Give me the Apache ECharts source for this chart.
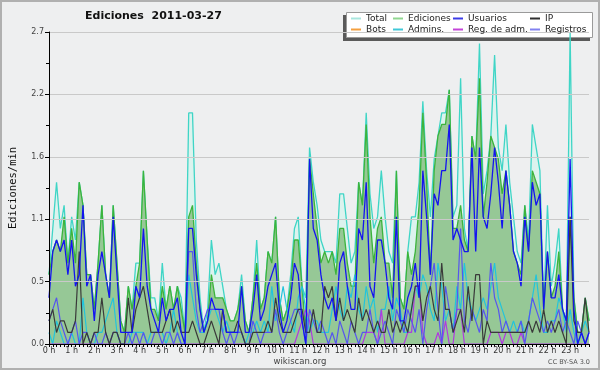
<!DOCTYPE html>
<html><head><meta charset="utf-8">
<script src="https://cdn.jsdelivr.net/npm/echarts@6/dist/echarts.min.js"></script>
<style>html,body{margin:0;padding:0;background:#eeeff0}#c{width:600px;height:370px}</style>
</head><body><div id="c"></div>
<script>
// Hour tick labels (one every 6 ten-minute samples)
const hourLabels = ['0 h','1 h','2 h','3 h','4 h','5 h','6 h','7 h','8 h','9 h','10 h','11 h','12 h','13 h','14 h','15 h','16 h','17 h','18 h','19 h','20 h','21 h','22 h','23 h'];
const yTicksLabelDigits = 1;

// Edits per minute, 10-minute samples 0:00 .. 23:50
const total = [0.6,1.0,1.4,1.0,1.2,0.7,1.1,0.9,1.4,1.2, 0.6,0.6,0.3,0.7,1.2,0.6,0.4,1.2,0.7,0.2, 0.1,0.5,0.3,0.7,0.7,1.5,0.9,0.4,0.4,0.2, 0.7,0.3,0.5,0.3,0.5,0.4,0.1,2.0,2.0,0.9, 0.4,0.1,0.3,0.9,0.6,0.7,0.5,0.3,0.2,0.2, 0.3,0.6,0.2,0.1,0.4,0.9,0.3,0.4,0.8,0.7, 1.1,0.4,0.2,0.3,0.6,1.0,1.1,0.5,0.4,1.7, 1.4,1.2,0.9,0.8,0.8,0.8,0.7,1.3,1.3,1.0, 0.7,0.8,1.4,1.2,2.0,1.3,1.0,1.1,1.5,1.1, 0.8,0.7,1.5,0.4,0.3,0.8,1.1,1.1,1.4,2.1, 1.5,1.1,1.6,1.8,2.0,2.0,2.2,1.1,1.2,2.3, 1.0,0.8,1.8,1.6,2.6,1.3,1.5,1.8,2.5,1.7, 1.5,1.9,1.4,1.1,0.8,0.7,1.2,0.9,1.9,1.7, 1.5,0.3,1.2,0.5,0.7,1.0,0.3,0.2,2.7,0.4, 0.1,0.1,0.4,0.2];
const ediciones = [0.6,0.8, 0.9,0.8,1.1,0.7,1.0,0.7,1.4,1.2,0.6,0.6, 0.3,0.7,1.2,0.6,0.4,1.2,0.7,0.2,0.1,0.5, 0.3,0.5,0.7,1.5,0.9,0.3,0.3,0.2,0.5,0.3, 0.5,0.3,0.5,0.3,0.1,1.1,1.2,0.7,0.3,0.1, 0.2,0.6,0.4,0.4,0.4,0.3,0.2,0.2,0.3,0.5, 0.2,0.1,0.4,0.7,0.3,0.4,0.8,0.7,1.1,0.4, 0.2,0.3,0.5,0.9,0.9,0.5,0.1,1.6, 1.3, 1.0,0.7,0.8,0.7,0.8,0.6,1.0,1.0,0.7,0.5, 0.5,1.4,1.2,1.9,1.1,0.7,1.0,1.1,0.7,0.7, 0.4,1.5,0.4,0.3,0.8,0.6,0.8,1.2,2.0,1.4, 0.6,1.5,1.8,1.9,1.9,2.2,1.0,1.0,1.2,0.9, 0.8,1.8,1.6,2.3,1.1,1.4,1.8,1.7,1.6,1.3, 1.5,1.2,0.8,0.7,0.6,1.2,0.8,1.5,1.4,1.3, 0.3,0.8,0.4,0.5,0.8,0.3,0.2,1.1,0.4,0.1, 0.1,0.4,0.2];
const usuarios = [0.4,0.8, 0.9,0.8,0.9,0.6,0.9,0.5,0.6,1.2,0.5,0.6, 0.2,0.6,0.8,0.6,0.4,1.1,0.6,0.1,0.1,0.1, 0.1,0.5,0.4,1.0,0.5,0.3,0.2,0.1,0.4,0.2, 0.3,0.3,0.4,0.1,0.0,1.0,1.0,0.6,0.3,0.1, 0.2,0.4,0.3,0.3,0.3,0.1,0.1,0.1,0.1,0.5, 0.1,0.1,0.3,0.6,0.2,0.3,0.5,0.6,0.7,0.3, 0.1,0.2,0.4,0.7,0.6,0.2,0.0,1.6, 1.0, 0.9,0.6,0.4,0.3,0.4,0.2,0.7,0.8,0.5,0.3, 0.3,1.0,0.9,1.4,0.5,0.4,0.9,0.9,0.7,0.4, 0.3,1.1,0.2,0.2,0.4,0.5,0.7,0.4,1.5,1.1, 0.6,1.3,1.2,1.5,1.5,1.9,0.9,1.0,0.9,0.8, 0.8,1.7,0.8,1.7,1.1,1.0,1.3,1.7,1.4,1.0, 1.5,1.2,0.8,0.7,0.5,1.1,0.8,1.4,1.2,1.3, 0.3,0.8,0.4,0.4,0.6,0.3,0.2,1.6,0.3,0.0, 0.1,0.0,0.1];
const ip = [0.2,0.3, 0.1,0.2,0.2,0.1,0.1,0.2,0.8,0.0,0.1,0.0, 0.1,0.1,0.4,0.1,0.0,0.1,0.1,0.0,0.0,0.4, 0.1,0.3,0.4,0.5,0.3,0.1,0.1,0.1,0.1,0.2, 0.3,0.1,0.2,0.1,0.1,0.1,0.2,0.1,0.0,0.0, 0.1,0.2,0.1,0.0,0.3,0.1,0.1,0.1,0.2,0.1, 0.0,0.0,0.1,0.1,0.1,0.1,0.2,0.1,0.4,0.2, 0.1,0.1,0.1,0.2,0.3,0.3,0.1,0.1, 0.3, 0.1,0.1,0.5,0.4,0.5,0.2,0.4,0.2,0.3,0.2, 0.1,0.4,0.2,0.3,0.2,0.1,0.2,0.1,0.1,0.3, 0.1,0.2,0.1,0.2,0.1,0.3,0.5,0.5,0.2,0.4, 0.5,0.3,0.2,0.7,0.3,0.3,0.1,0.2,0.3,0.1, 0.5,0.2,0.6,0.6,0.0,0.2,0.1,0.1,0.1,0.1, 0.1,0.1,0.1,0.1,0.1,0.1,0.2,0.1,0.2,0.1, 0.3,0.1,0.2,0.1,0.2,0.1,0.0,1.1,0.2,0.1, 0.1,0.4,0.1];
const bots = [];
const admins = [0.1,0,0.2,0.1,0,0,0.1,0,0,0.4,0.1, 0,0,0.1,0.1,0.2,0.3,0.4,0.1,0,0,0,0.1, 0.1,0.1,0.1,0,0.1,0.1,0.1,0.1,0,0.1,0.3,0.1, 0,0,0.6,0.4,0.2,0.1,0.1,0.2,0.3,0.3,0.2,0.1, 0.2,0.1,0.1,0.1,0.1,0,0.1,0.1,0.2,0.1,0.2,0.1, 0.5,0.2,0.3,0.5,0.3,0.2,0.1,0.4,0.5,0.3,0.1, 0.2, 0.2, 0.1,0.1,0.1,0.3,0.5,0.3,0.2,0.5,0.4,0.6,0.3,0.2, 0.5,0.3,0.4,0.1,0.3,0.3,0.5,0.2,0.4,0.3,0.1,0.1, 0.3,0.5,0.4,0.6,0.5,0.3,0.2,0.7,0.5,0.2,0.3,0.1, 0.5,0.3,0.7,0.4,0.3,0.2,0.3,0.4,0.3,0.5,0.7,0.4, 0.3,0.2,0.1,0.2,0.1,0.2,0.1,0.2,0.4,0.6,0.3,0.1, 0.1,0.2,0.2,0.4,0.3,0.1,0.3,0.1,0,0.1,0.2,0.1];
const regAdm = [0,0,0,0,0,0,0,0,0,0, 0,0,0,0,0,0,0,0,0,0, 0,0,0,0,0,0,0,0,0,0, 0,0,0,0,0,0,0,0,0,0, 0,0,0,0,0,0,0,0,0,0, 0,0,0,0,0,0,0,0,0,0, 0,0,0,0,0,0,0.1,0.2,0.3,0.2, 0,0,0,0,0,0,0,0,0,0, 0,0,0,0,0.1,0.1,0.1,0,0.3,0, 0,0,0,0,0,0.1,0.1,0.5,0.5,0.1, 0,0,0,0.1,0,0.2,0,0,0.3,0.3, 0,0,0,0,0,0,0,0.1,0.1,0.1, 0,0.1,0.1,0,0,0.1,0,0,0,0, 0,0,0,0,0,0,0,0,0,0, 0,0,0,0];
const registros = [0.2,0.3,0.4,0.2,0.1,0.0,0.1,0.2,0.0,0.1,0.1, 0.0,0.1,0.0,0.0,0.1,0.0,0.1,0.1,0.0,0.0,0.1,0.0, 0.1,0.0,0.1,0.0,0.0,0.1,0.1,0.0,0.1,0.1,0.0,0.1, 0.0,0.0,0.8,0.8,0.3,0.1,0.2,0.3,0.3,0.3,0.3,0.1, 0.0,0.1,0.0,0.1,0.1,0.0,0.0,0.2,0.1,0.0,0.1,0.1, 0.1,0.3,0.1,0.0,0.1,0.2,0.3,0.3,0.2,0.0,0.3, 0.2, 0.1, 0.2,0.1,0.0,0.1,0.0,0.2,0.1,0.0,0.2,0.1,0.0,0.1, 0.1,0.3,0.1,0.0,0.1,0.2,0.1,0.0,0.3,0.2,0.1,0.3, 0.2,0.1,0.3,0.0,0.3,0.5,0.7,0.3,0.0,0.5,0.3,0.1, 0.3,1.0,0.2,0.1,0.3,0.2,0.1,0.3,0.2,0.7,0.4,0.3, 0.1,0.2,0.1,0.1,0.1,0.2,0.0,0.2,0.4,0.3,0.2,0.1, 0.2,0.1,0.2,0.3,0.1,0.2,0.1,0.0,0.2,0.1,0.0,0.1];

const slots = total.map((_, i) => i);
const chart = echarts.init(document.getElementById('c'), null, {renderer: 'canvas'});

function line(name, data, color, width, z, area) {
  const s = {name, type: 'line', data, symbol: 'none', z,
    lineStyle: {color, width}, itemStyle: {color}, emphasis: {disabled: true}};
  if (area) s.areaStyle = {color: area, opacity: 1};
  return s;
}
const legText = {fontFamily: 'DejaVu Sans', fontSize: 9, color: '#222', lineHeight: 11};
function leg(left, a, b) {
  return {orient: 'vertical', left, top: 13, padding: 0, itemGap: 0, itemWidth: 10, itemHeight: 2,
    icon: 'rect', selectedMode: false, textStyle: legText, z: 6, data: [a, b]};
}

chart.setOption({
  animation: false,
  backgroundColor: '#eeeff0',
  title: {text: 'Ediciones  2011-03-27', left: 85, top: 11, padding: 0,
    textStyle: {fontFamily: 'DejaVu Sans', fontWeight: 'bold', fontSize: 11, color: '#111'}},
  grid: {left: 46, right: 11, top: 32, bottom: 26},
  xAxis: {type: 'category', data: slots, boundaryGap: false, z: 5,
    axisLine: {lineStyle: {color: '#000', width: 1}},
    axisTick: {interval: 0, length: 3, lineStyle: {color: '#000'}},
    axisLabel: {interval: 0, margin: 3, fontSize: 8, color: '#333', fontFamily: 'DejaVu Sans',
      formatter: (v, i) => (i % 6 === 0 ? hourLabels[i / 6] : '')},
    splitLine: {show: false}},
  yAxis: {type: 'value', min: 0, max: 2.7, interval: 0.54, z: 5,
    name: 'Ediciones/min', nameLocation: 'middle', nameGap: 30, nameRotate: 90,
    nameTextStyle: {fontFamily: 'DejaVu Sans Mono', fontSize: 10.5, color: '#111'},
    axisLine: {show: true, lineStyle: {color: '#000'}},
    axisTick: {show: true, length: 4, lineStyle: {color: '#000'}},
    minorTick: {show: true, splitNumber: 2, length: 3, lineStyle: {color: '#000'}},
    axisLabel: {formatter: v => v.toFixed(yTicksLabelDigits), fontSize: 8, color: '#444', margin: 5, fontFamily: 'DejaVu Sans'},
    splitLine: {lineStyle: {color: '#c9c9c9'}}},
  legend: [
    leg(351, {name: 'Total', itemStyle: {color: '#a8e6de'}}, {name: 'Bots', itemStyle: {color: '#f4a040'}}),
    leg(393, {name: 'Ediciones', itemStyle: {color: '#90d690'}}, {name: 'Admins.', itemStyle: {color: '#40c8d8'}}),
    leg(453, {name: 'Usuarios', itemStyle: {color: '#3c3ce8'}}, {name: 'Reg. de adm.', itemStyle: {color: '#c444d8'}}),
    leg(530, {name: 'IP', itemStyle: {color: '#303030'}}, {name: 'Registros', itemStyle: {color: '#8282f0'}})
  ],
  graphic: [
    {type: 'rect', z: 1, shape: {x: 1, y: 1, width: 598, height: 368}, style: {fill: 'none', stroke: '#b0b0b0', lineWidth: 2}},
    {type: 'rect', z: 1, shape: {x: 343, y: 15, width: 247, height: 26}, style: {fill: '#5a5a5a'}},
    {type: 'rect', z: 1, shape: {x: 346.5, y: 12.5, width: 246, height: 25}, style: {fill: '#ffffff', stroke: '#9a9a9a', lineWidth: 1}},
    {type: 'text', z: 6, x: 300, y: 362, style: {text: 'wikiscan.org', align: 'center', verticalAlign: 'middle', fontFamily: 'DejaVu Sans', fontSize: 8.5, fill: '#444'}},
    {type: 'text', z: 6, x: 590, y: 362, style: {text: 'CC BY-SA 3.0', align: 'right', verticalAlign: 'middle', fontFamily: 'DejaVu Sans', fontSize: 6.5, fill: '#555'}}
  ],
  series: [
    line('Total', total, '#3fd5c6', 1.3, 2, '#dcf3ee'),
    line('Ediciones', ediciones, '#3cb43c', 1.3, 3, '#96c896'),
    line('Bots', bots, '#f4a040', 1.2, 4),
    line('Admins.', admins, '#22c4dc', 1.2, 4),
    line('Reg. de adm.', regAdm, '#b03ae0', 1.2, 4),
    line('Registros', registros, '#5656ee', 1.2, 4),
    line('IP', ip, '#3a3a3a', 1.2, 4),
    line('Usuarios', usuarios, '#1414f0', 1.3, 4)
  ]
});
</script></body></html>
